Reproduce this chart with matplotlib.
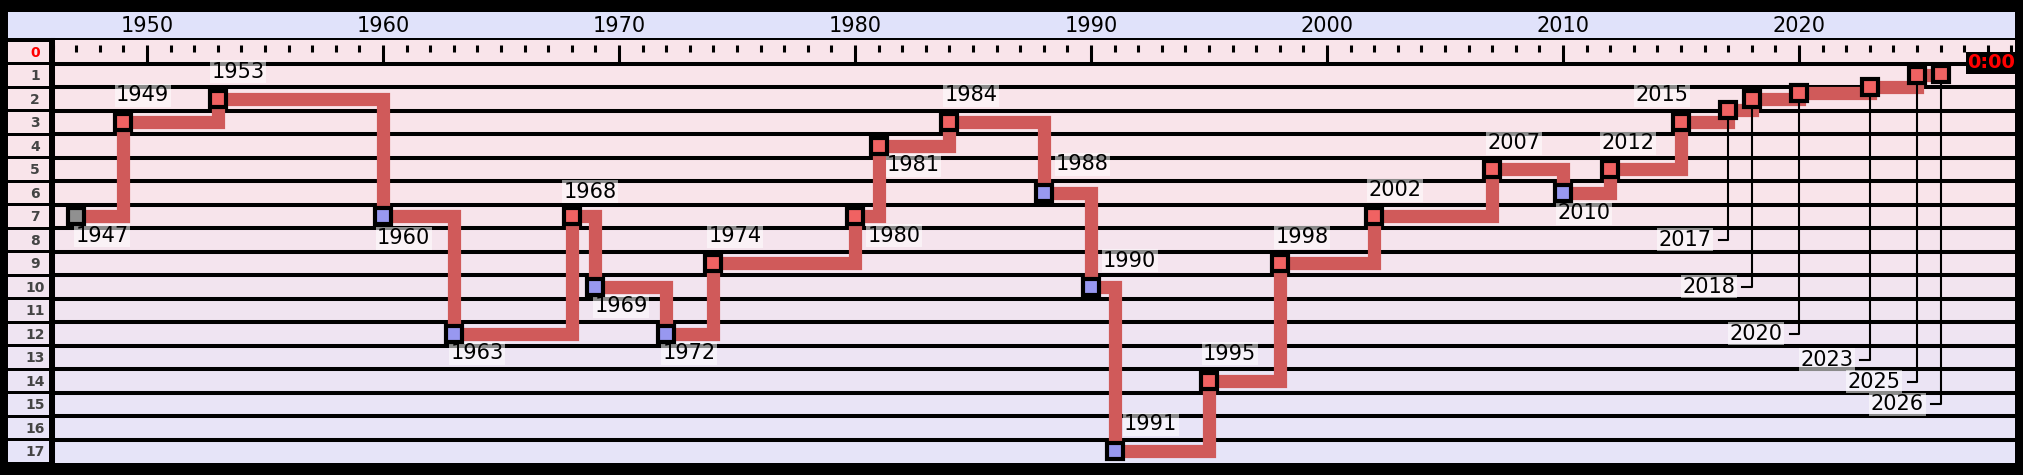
import matplotlib
matplotlib.use("Agg")
import matplotlib.pyplot as plt
import numpy as np
from matplotlib.transforms import blended_transform_factory

years = [1947, 1949, 1953, 1960, 1963, 1968, 1969, 1972, 1974, 1980, 1981, 1984, 1988,
         1990, 1991, 1995, 1998, 2002, 2007, 2010, 2012, 2015, 2017, 2018, 2020, 2023, 2025, 2026]
minutes = [7, 3, 2, 7, 12, 7, 10, 12, 9, 7, 4, 3, 6, 10, 17, 14, 9, 7, 5, 6, 5, 3, 2.5, 2.0, 1.75, 1.5, 1.0, 0.95]
header_years = [1950, 1960, 1970, 1980, 1990, 2000, 2010, 2020]
row_labels = [str(i) for i in range(18)]

# label placement (display px offsets of label centre from marker); None -> leader style
label_off = {1947: (20, 15), 1949: (15, -21), 1953: (16, -21), 1960: (16, 17), 1963: (18, 15),
             1968: (14, -19), 1969: (20, 15), 1972: (18, 15), 1974: (17, -21), 1980: (30, 15),
             1981: (27, 15), 1984: (17, -21), 1988: (30, -22), 1990: (30, -20), 1991: (28, -21),
             1995: (16, -21), 1998: (17, -20), 2002: (16, -20), 2007: (17, -20), 2010: (16, 16),
             2012: (14, -20), 2015: (-15, -21)}
leader_rows = {2017: 8, 2018: 10, 2020: 12, 2023: 13.1, 2025: 14.05, 2026: 15}

W, H = 2024, 475
fig = plt.figure(figsize=(W / 100, H / 100), dpi=100)
fig.patch.set_facecolor("black")
bg = fig.add_axes([0, 0, 1, 1])
bg.set_xlim(0, W); bg.set_ylim(H, 0); bg.axis("off")

row_top, row_h, x0, x1 = 40, 23.5, 53, 2015
pink = np.array([0.976, 0.894, 0.918]); lav = np.array([0.902, 0.894, 0.973])
def row_col(k):
    if k < 7:
        return pink
    t = (k - 6) / 11
    return pink * (1 - t) + lav * t

bg.add_patch(plt.Rectangle((8, 12), x1 - 8, 26, color="#e0e2fa", lw=0))
for k in range(18):
    y = row_top + k * row_h
    c = row_col(k)
    bg.add_patch(plt.Rectangle((8, y + 1.5), 41, row_h - 3, color=c, lw=0))
    bg.add_patch(plt.Rectangle((x0, y), x1 - x0, row_h, color=c, lw=0))
    bg.text(35, y + row_h / 2 + 1, row_labels[k], ha="center", va="center",
            fontsize=10, fontweight="bold", color="red" if k == 0 else "#444444")
    if k > 0:
        bg.plot([x0, x1], [y, y], color="black", lw=2.9, solid_capstyle="butt")
bg.plot([x0, x0], [row_top, row_top + 18 * row_h], color="black", lw=2.9)

ax = fig.add_axes([x0 / W, 1 - (row_top + 18 * row_h) / H, (x1 - x0) / W, 18 * row_h / H])
ax.set_xlim((x0 - 147) / 23.6 + 1950, (x1 - 147) / 23.6 + 1950)
ax.set_ylim(17.5, -0.5)
ax.axis("off")

# ruler ticks in row 0
for yr in range(1946, 2030):
    bot = 0.5 if yr % 10 == 0 else 0.0
    ax.plot([yr, yr], [-0.3, bot], color="black", lw=2.2, solid_capstyle="butt")
tr = blended_transform_factory(ax.transData, bg.transData)
for yr in header_years:
    bg.text(yr, 26, str(yr), transform=tr, ha="center", va="center", fontsize=15)

ax.plot(years, minutes, drawstyle="steps-post", color="#d05a5a", lw=9.5, zorder=2,
        solid_capstyle="butt", solid_joinstyle="miter")
for i, (yr, m) in enumerate(zip(years, minutes)):
    if i == 0:
        fc = "#909090"
    elif i > 0 and m > minutes[i - 1]:
        fc = "#9898f0"
    else:
        fc = "#f06262"
    ax.plot(yr, m, "s", ms=12, mfc=fc, mec="black", mew=3, zorder=5)
    box = dict(facecolor="white", alpha=0.55, edgecolor="none", pad=1)
    if yr in label_off:
        dx, dy = label_off[yr]
        ax.annotate(str(yr), (yr, m), xytext=(dx * 0.93, -dy * 0.93), textcoords="offset points",
                    ha="center", va="center", fontsize=15, bbox=box, zorder=4)
    else:
        r = leader_rows[yr]
        ax.plot([yr, yr, yr - 0.4], [m, r, r], color="black", lw=1.5, zorder=3)
        ax.text(yr - 0.7, r, str(yr), ha="right", va="center", fontsize=15, bbox=box, zorder=4)

bg.text(2015, 63, "0:00", ha="right", va="center", fontsize=14, fontweight="bold", color="red",
        bbox=dict(facecolor="black", edgecolor="none", pad=1))

fig.savefig("out.png", dpi=100, facecolor="black")
